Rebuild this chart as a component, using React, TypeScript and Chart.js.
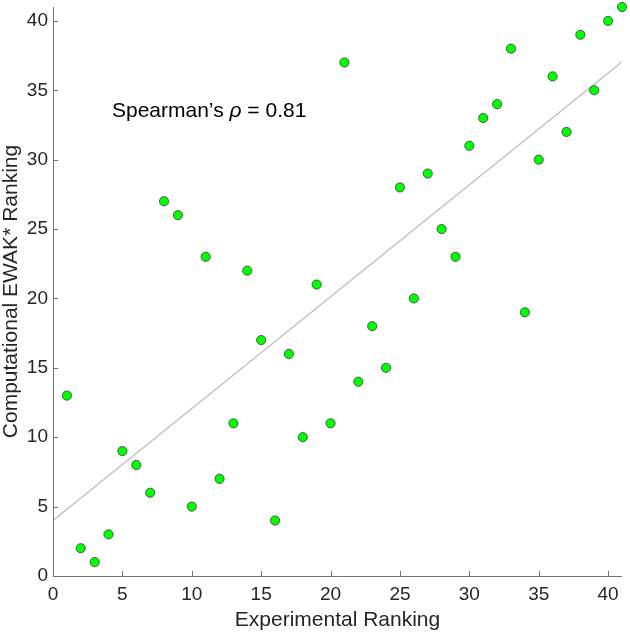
import { useEffect, useRef } from "react";
import { Chart, registerables } from "chart.js";

Chart.register(...registerables);

// ---- data ----
const experimentalRank = [
  1, 2, 3, 4, 5, 6, 7, 8, 9, 10,
  11, 12, 13, 14, 15, 16, 17, 18, 19, 20,
  21, 22, 23, 24, 25, 26, 27, 28, 29, 30,
  31, 32, 33, 34, 35, 36, 37, 38, 39, 40, 41,
];
const computationalRank = [
  13, 2, 1, 3, 9, 8, 6, 27, 26, 5,
  23, 7, 11, 22, 17, 4, 16, 10, 21, 11,
  37, 14, 18, 15, 28, 20, 29, 25, 23, 31,
  33, 34, 38, 19, 30, 36, 32, 39, 35, 40, 41,
];
const xRange = [0, 41];
const yRange = [0, 41];
const tickStep = 5;
const fitIntercept = 4.0;
const fitSlope = 0.806;
const xTitle = "Experimental Ranking";
const yTitle = "Computational EWAK* Ranking";
const annotationParts = [
  { text: "Spearman\u2019s ", italic: false },
  { text: "\u03C1", italic: true },
  { text: " = 0.81", italic: false },
];
const annotationAt = { x: 4.25, y: 33.05 };

// ---- styles ----
const FONT = "'Liberation Sans', Arial, Helvetica, sans-serif";
const TEXT_COLOR = "#262626";
const AXIS_COLOR = "#737373";

const decorPlugin = {
  id: "decor",
  afterDraw(chart: any) {
    const { ctx, chartArea: a, scales } = chart;
    const x = scales.x;
    const y = scales.y;
    ctx.save();
    // axis lines
    ctx.strokeStyle = AXIS_COLOR;
    ctx.lineWidth = 1;
    ctx.beginPath();
    ctx.moveTo(a.left + 0.5, a.top);
    ctx.lineTo(a.left + 0.5, a.bottom + 0.5);
    ctx.lineTo(a.right, a.bottom + 0.5);
    ctx.stroke();
    // inward ticks
    ctx.beginPath();
    x.ticks.forEach((t: any) => {
      const px = Math.round(x.getPixelForValue(t.value)) + 0.5;
      ctx.moveTo(px, a.bottom);
      ctx.lineTo(px, a.bottom - 5);
    });
    y.ticks.forEach((t: any) => {
      const py = Math.round(y.getPixelForValue(t.value)) + 0.5;
      ctx.moveTo(a.left, py);
      ctx.lineTo(a.left + 5, py);
    });
    ctx.stroke();

    // annotation
    ctx.fillStyle = "#000";
    ctx.textBaseline = "alphabetic";
    ctx.textAlign = "left";
    let ax = x.getPixelForValue(annotationAt.x);
    const ay = y.getPixelForValue(annotationAt.y);
    annotationParts.forEach((p) => {
      ctx.font = `${p.italic ? "italic " : ""}21px ${FONT}`;
      ctx.fillText(p.text, ax, ay);
      ax += ctx.measureText(p.text).width;
    });

    // axis titles
    ctx.fillStyle = TEXT_COLOR;
    ctx.font = `21px ${FONT}`;
    ctx.textAlign = "center";
    ctx.fillText(xTitle, (a.left + a.right) / 2, 626);
    ctx.save();
    ctx.translate(17, (a.top + a.bottom) / 2);
    ctx.rotate(-Math.PI / 2);
    ctx.fillText(yTitle, 0, 0);
    ctx.restore();
    ctx.restore();
  },
};

export default function App() {
  const canvasRef = useRef<HTMLCanvasElement | null>(null);

  useEffect(() => {
    if (!canvasRef.current) return;
    const points = experimentalRank.map((v, i) => ({ x: v, y: computationalRank[i] }));
    const fit = xRange.map((v) => ({ x: v, y: fitIntercept + fitSlope * v }));
    const tickFont = { family: FONT, size: 19 };
    const chart = new Chart(canvasRef.current, {
      type: "scatter",
      data: {
        datasets: [
          {
            label: "rankings",
            data: points,
            backgroundColor: "#00ff00",
            borderColor: "#3a3a3a",
            borderWidth: 0.8,
            pointRadius: 4.6,
            showLine: false,
            clip: false,
          },
          {
            label: "fit",
            data: fit,
            showLine: true,
            borderColor: "#c4c4c4",
            borderWidth: 1.5,
            pointRadius: 0,
            fill: false,
          },
        ],
      },
      options: {
        responsive: false,
        animation: false,
        devicePixelRatio: 1,
        layout: { padding: { top: 7, right: 8, left: 0, bottom: 0 } },
        plugins: {
          legend: { display: false },
          tooltip: { enabled: false },
        },
        scales: {
          x: {
            type: "linear",
            min: xRange[0],
            max: xRange[1],
            grid: { display: false, drawTicks: false },
            border: { display: false },
            ticks: {
              stepSize: tickStep,
              includeBounds: false,
              font: tickFont,
              color: TEXT_COLOR,
              padding: 7,
              maxRotation: 0,
              autoSkip: false,
            },
            afterFit: (s: any) => {
              s.height = 58;
              s.paddingLeft = 0;
              s.paddingRight = 0;
            },
          },
          y: {
            type: "linear",
            min: yRange[0],
            max: yRange[1],
            grid: { display: false, drawTicks: false },
            border: { display: false },
            ticks: {
              stepSize: tickStep,
              includeBounds: false,
              font: tickFont,
              color: TEXT_COLOR,
              padding: 5,
              autoSkip: false,
            },
            afterFit: (s: any) => {
              s.width = 53;
              s.paddingTop = 0;
              s.paddingBottom = 0;
            },
          },
        },
      },
      plugins: [decorPlugin],
    });
    return () => chart.destroy();
  }, []);

  return (
    <div style={{ position: "fixed", left: 0, top: 0, width: 630, height: 634, background: "#fff" }}>
      <canvas ref={canvasRef} width={630} height={634} style={{ display: "block" }} />
    </div>
  );
}
